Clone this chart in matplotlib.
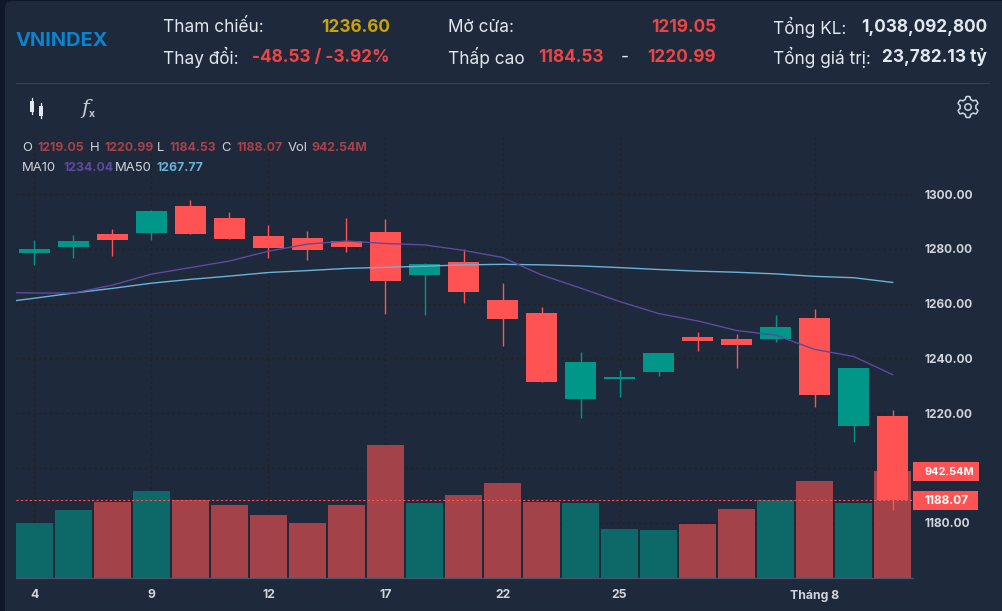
"""Rebuild the VNINDEX candlestick panel with volume bars and header."""

import matplotlib

matplotlib.use("Agg")
import matplotlib.pyplot as plt
import numpy as np
from matplotlib.patches import Circle, FancyBboxPatch, Polygon, Rectangle

WIDTH, HEIGHT = 1003, 611

opens = [1278.4, 1280.6, 1285.4, 1285.7, 1295.6, 1291.2, 1284.6, 1283.9, 1282.8, 1286.1, 1270.4, 1275.1,
         1261.2, 1256.5, 1225.1, 1232.4, 1234.9, 1247.7, 1247.0, 1247.0, 1254.7, 1215.2, 1219.05]
highs = [1283.2, 1285.0, 1287.2, 1294.2, 1297.8, 1293.4, 1288.7, 1286.5, 1291.2, 1290.9, 1274.8, 1279.9,
         1267.5, 1258.7, 1242.2, 1235.7, 1241.9, 1249.6, 1248.8, 1255.8, 1258.0, 1236.4, 1220.99]
lows = [1274.2, 1276.6, 1277.3, 1283.2, 1285.4, 1283.5, 1276.6, 1275.9, 1278.8, 1256.1, 1255.8, 1260.2,
        1244.4, 1231.3, 1218.1, 1225.8, 1233.5, 1242.6, 1236.4, 1245.9, 1222.1, 1209.3, 1184.53]
closes = [1279.9, 1282.8, 1283.2, 1293.8, 1285.4, 1283.5, 1280.3, 1279.5, 1280.6, 1268.2, 1274.4, 1264.2,
          1254.3, 1231.3, 1238.6, 1233.1, 1241.9, 1246.3, 1244.8, 1251.4, 1226.5, 1236.4, 1188.07]
volumes = [486, 600, 670, 767, 688, 644, 556, 486, 644, 1171, 661, 732,
           837, 670, 661, 433, 424, 477, 609, 688, 855, 661, 942.54]

# first point belongs to the session just left of the visible range
ma10 = [1264.2, 1263.9, 1263.9, 1266.8, 1270.8, 1273.2, 1275.6, 1279.2, 1281.8, 1282.9, 1282.0, 1281.5,
        1279.5, 1276.9, 1270.5, 1265.7, 1260.8, 1256.4, 1253.7, 1250.2, 1248.5, 1243.3, 1240.7, 1234.04]
ma50 = [1260.2, 1262.0, 1263.9, 1265.6, 1267.5, 1268.9, 1270.1, 1271.4, 1272.1, 1272.9, 1273.3, 1273.7,
        1274.2, 1274.4, 1274.2, 1273.8, 1273.2, 1272.5, 1271.9, 1271.5, 1270.9, 1270.0, 1269.5, 1267.77]

price_ticks = [1180, 1200, 1220, 1240, 1260, 1280, 1300]
price_labels = ["1180.00", "", "1220.00", "1240.00", "1260.00", "1280.00", "1300.00"]
date_ticks = [0, 3, 6, 9, 12, 15, 20]
date_labels = ["4", "9", "12", "17", "22", "25", "Tháng 8"]

BG = "#1E293B"
PAGE = "#0F172A"
UP = "#009688"
DOWN = "#FF5252"
VOL_UP = "#0D6967"
VOL_DOWN = "#A44249"
GRID = "#212327"
TEXT = "#E2E8F0"
AXIS_TEXT = "#D1D4DC"
RED_TEXT = "#EF4444"
DIM_RED = "#A8414A"
MA10_COLOR = "#5E4A9E"
MA50_COLOR = "#6CB2D8"


def px_rect(left, top, right, bottom):
    return [left / WIDTH, 1 - bottom / HEIGHT, (right - left) / WIDTH, (bottom - top) / HEIGHT]


def pixel_axes(zorder):
    overlay = fig.add_axes([0, 0, 1, 1], zorder=zorder, facecolor="none")
    overlay.set_xlim(0, WIDTH)
    overlay.set_ylim(HEIGHT, 0)
    overlay.set_axis_off()
    return overlay


plt.rcParams["font.family"] = ["Inter", "DejaVu Sans"]
fig = plt.figure(figsize=(WIDTH / 100, HEIGHT / 100), dpi=100, facecolor=PAGE)

# header and chrome, in pixel coordinates
ui = pixel_axes(0)
overlay = pixel_axes(5)
ui.add_patch(FancyBboxPatch((5, 1), 1040, 700, boxstyle="round,pad=0,rounding_size=7", fc=BG, ec="none"))
ui.plot([16, 989], [82.5, 82.5], color="#334155", lw=0.8)


def label(x, y, text, color=TEXT, size=12.4, weight="normal", ha="left"):
    overlay.text(x, y, text, color=color, fontsize=size, fontweight=weight, ha=ha, va="center")


label(16, 41, "VNINDEX", "#0A84CF", 14.4, "bold")
label(163, 27, "Tham chiếu:")
label(390, 27, "1236.60", "#CAA30A", 12.4, "bold", "right")
label(163, 57, "Thay đổi:")
label(390, 57, "-48.53 / -3.92%", RED_TEXT, 12.4, "bold", "right")
label(448, 27, "Mở cửa:")
label(716, 27, "1219.05", RED_TEXT, 12.4, "bold", "right")
label(448, 57, "Thấp cao")
label(538, 57, "1184.53", RED_TEXT, 12.4, "bold")
label(625, 57, "-", TEXT, 12.4, "normal", "center")
label(716, 57, "1220.99", RED_TEXT, 12.4, "bold", "right")
label(773, 27, "Tổng KL:")
label(987, 27, "1,038,092,800", TEXT, 12.4, "bold", "right")
label(773, 57, "Tổng giá trị:")
label(987, 57, "23,782.13 tỷ", TEXT, 12.4, "bold", "right")

# toolbar icons
ui.plot([32, 32], [98, 114], color=TEXT, lw=0.9)
ui.plot([41, 41], [103, 118], color=TEXT, lw=0.9)
ui.add_patch(Rectangle((30.5, 101), 3.2, 11, fc=TEXT, ec="none"))
ui.add_patch(Rectangle((39.5, 106), 3.2, 10, fc=TEXT, ec="none"))
ui.text(81, 108, "f", color="#C3C9D2", fontsize=15, family="DejaVu Serif", style="italic", va="center")
ui.text(89, 114, "x", color="#C3C9D2", fontsize=7.5, fontweight="bold", va="center")
angles = np.linspace(0, 2 * np.pi, 181)
radius = 9.2 + 1.3 * np.clip(np.cos(6 * angles) * 2.2, -1, 1)
ui.add_patch(Polygon(np.column_stack([968 + radius * np.sin(angles), 107 + radius * np.cos(angles)]),
                     closed=True, fc="none", ec="#CBD5E1", lw=1.1))
ui.add_patch(Circle((968, 107), 3.2, fc="none", ec="#CBD5E1", lw=1.1))

# OHLC legend
legend_rows = [
    (148, [(22, "O", AXIS_TEXT), (37, f"{opens[-1]:.2f}", DIM_RED), (90, "H", AXIS_TEXT),
           (104, f"{highs[-1]:.2f}", DIM_RED), (157, "L", AXIS_TEXT), (169, f"{lows[-1]:.2f}", DIM_RED),
           (221, "C", AXIS_TEXT), (236, f"{closes[-1]:.2f}", DIM_RED), (288, "Vol", AXIS_TEXT),
           (311, f"{volumes[-1]:.2f}M", DIM_RED)]),
    (168, [(22, "MA10", AXIS_TEXT), (63, f"{ma10[-1]:.2f}", MA10_COLOR), (115, "MA50", AXIS_TEXT),
           (156, f"{ma50[-1]:.2f}", MA50_COLOR)]),
]
for row_y, row in legend_rows:
    for x, text, color in row:
        if color == AXIS_TEXT:
            label(x, row_y, text, color, 9.4, "normal")
        else:
            label(x, row_y, text, color, 8.9, "bold")

# last value tags on the right scale
ui.add_patch(Rectangle((913, 462), 66, 19, fc=DOWN, ec="none"))
ui.add_patch(Rectangle((913, 491), 65, 19, fc=DOWN, ec="none"))
label(925, 472, f"{volumes[-1]:.2f}M", "white", 7.9, "bold")
label(925, 501, f"{closes[-1]:.2f}", "white", 8.6, "bold")

plot_rect = px_rect(16, 133.3, 913, 578.3)
xlim = (-0.47, 22.52)
price_lim = (1159.6, 1322.3)

ax = fig.add_axes(plot_rect, zorder=1, facecolor="none")
ax.set_xlim(xlim)
ax.set_ylim(price_lim)
ax.yaxis.tick_right()
ax.set_yticks(price_ticks, price_labels)
ax.set_xticks(date_ticks, date_labels)
ax.tick_params(axis="y", length=0, pad=8.5, labelcolor=AXIS_TEXT, labelsize=8.6)
ax.tick_params(axis="x", length=0, pad=8, labelcolor=AXIS_TEXT, labelsize=8.8)
for tick in ax.get_xticklabels() + ax.get_yticklabels():
    tick.set_fontweight("bold")
ax.grid(color=GRID, lw=1.0, ls=(0, (2, 2)))
for name in ["top", "left", "right"]:
    ax.spines[name].set_visible(False)
ax.spines["bottom"].set_color("#475569")
ax.spines["bottom"].set_linewidth(0.9)

positions = np.arange(len(closes))
is_up = [c >= o and o != 1219.05 for o, c in zip(opens, closes)]
candle_colors = [UP if up else DOWN for up in is_up]

vol_ax = fig.add_axes(plot_rect, zorder=2, facecolor="none")
vol_ax.set_axis_off()
vol_ax.set_xlim(xlim)
vol_ax.set_ylim(0, 445 * 8.784)
vol_ax.bar(positions, volumes, width=0.96, color=[VOL_UP if up else VOL_DOWN for up in is_up])

candle_ax = fig.add_axes(plot_rect, zorder=3, facecolor="none")
candle_ax.set_axis_off()
candle_ax.set_xlim(xlim)
candle_ax.set_ylim(price_lim)
candle_ax.axhline(closes[-1], color=DOWN, lw=0.8, ls=(0, (2, 2)))
candle_ax.vlines(positions, lows, highs, colors=candle_colors, lw=1.0)
bottoms = np.minimum(opens, closes)
heights = np.abs(np.array(closes) - np.array(opens))
candle_ax.bar(positions, heights, bottom=bottoms, width=0.795, color=candle_colors, zorder=3)
ma_x = np.arange(-1, len(closes))
candle_ax.plot(ma_x, ma50, color=MA50_COLOR, lw=1.0, zorder=4)
candle_ax.plot(ma_x, ma10, color=MA10_COLOR, lw=1.0, zorder=4)

fig.savefig("out.png", dpi=100, facecolor=fig.get_facecolor())
plt.close(fig)
